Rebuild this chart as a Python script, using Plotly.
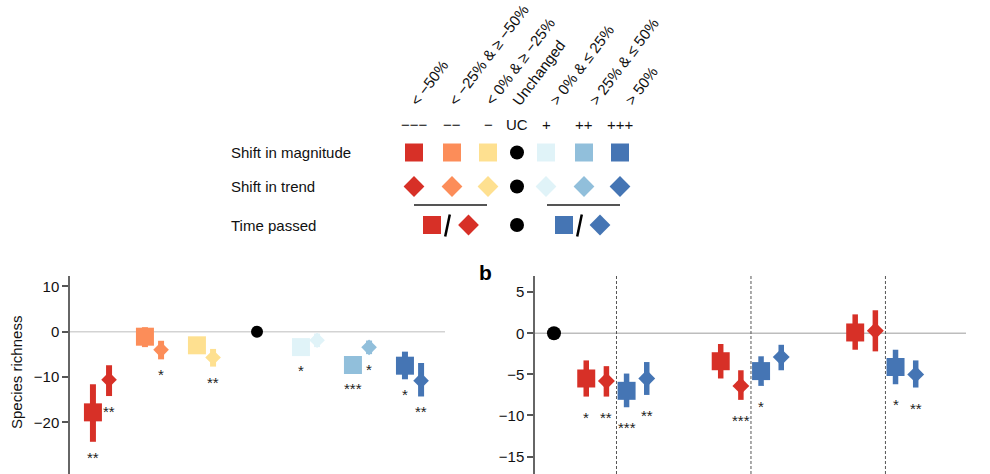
import plotly.graph_objects as go

# ---------------- data ----------------
# Panel a: shift categories
a_categories = ["−−−", "−−", "−", "UC", "+", "++", "+++"]
a_mag_val = [-17.8, -1.1, -3.0, None, -3.4, -7.35, -7.5]
a_mag_lo = [-24.3, -3.4, -4.8, None, -5.2, -9.15, -10.5]
a_mag_hi = [-11.6, 1.0, -1.2, None, -1.6, -5.55, -4.4]
a_trend_val = [-10.6, -4.0, -5.7, None, -1.9, -3.45, -10.8]
a_trend_lo = [-14.2, -6.1, -7.7, None, -3.4, -4.95, -14.3]
a_trend_hi = [-7.4, -2.0, -3.8, None, -0.4, -1.95, -6.9]
a_mag_sig = ["**", "", "", "", "*", "***", "*"]
a_trend_sig = ["**", "*", "**", "", "", "*", "**"]
uc_value = 0.0

# Panel b: three time-passed groups
b_groups = [1, 2, 3]
b_neg_mag_val = [-5.5, -3.4, 0.1]
b_neg_mag_lo = [-7.7, -5.5, -2.0]
b_neg_mag_hi = [-3.3, -1.3, 2.3]
b_neg_trend_val = [-5.8, -6.4, 0.3]
b_neg_trend_lo = [-7.7, -8.1, -2.2]
b_neg_trend_hi = [-4.0, -4.5, 2.8]
b_pos_mag_val = [-7.0, -4.6, -4.1]
b_pos_mag_lo = [-9.0, -6.4, -6.2]
b_pos_mag_hi = [-4.9, -2.8, -2.0]
b_pos_trend_val = [-5.5, -2.9, -5.0]
b_pos_trend_lo = [-7.5, -4.5, -6.6]
b_pos_trend_hi = [-3.5, -1.4, -3.3]
b_neg_mag_sig = ["*", "", ""]
b_neg_trend_sig = ["**", "***", ""]
b_pos_mag_sig = ["***", "*", "*"]
b_pos_trend_sig = ["**", "", "**"]

header_labels = ["< −50%", "< −25% & ≥ −50%", "< 0% & ≥ −25%", "Unchanged",
                 "> 0% & ≤ 25%", "> 25% & ≤ 50%", "> 50%"]
row_labels = ["Shift in magnitude", "Shift in trend", "Time passed"]

# ---------------- styles ----------------
colors = ["#d73027", "#fc8d59", "#fee090", "#000000", "#e0f3f8", "#91bfdb", "#4575b4"]
RED, BLUE = colors[0], colors[6]
FONT = "Liberation Sans, Arial, Helvetica, sans-serif"
W, H = 990, 474

fig = go.Figure()

# ---------- panel a ----------
A_OFF = 0.155
def add_point(xref, yref, x, val, lo, hi, color, symbol, size, thick):
    fig.add_trace(go.Scatter(
        x=[x], y=[val], mode="markers", xaxis=xref, yaxis=yref,
        marker=dict(symbol=symbol, size=size, color=color, line=dict(width=0)),
        error_y=dict(type="data", symmetric=False, array=[hi - val], arrayminus=[val - lo],
                     color=color, thickness=thick, width=0),
        showlegend=False, hoverinfo="skip"))

star_ann = []
for g, cat in enumerate(a_categories):
    if a_mag_val[g] is None:
        fig.add_trace(go.Scatter(x=[g], y=[uc_value], mode="markers", xaxis="x", yaxis="y",
                                 marker=dict(size=12, color="#000"), showlegend=False,
                                 hoverinfo="skip"))
        continue
    add_point("x", "y", g - A_OFF, a_mag_val[g], a_mag_lo[g], a_mag_hi[g], colors[g], "square", 18, 6)
    add_point("x", "y", g + A_OFF, a_trend_val[g], a_trend_lo[g], a_trend_hi[g], colors[g], "diamond", 12, 6)
    for xo, lo, s in [(g - A_OFF, a_mag_lo[g], a_mag_sig[g]), (g + A_OFF, a_trend_lo[g], a_trend_sig[g])]:
        if s:
            star_ann.append(dict(x=xo, y=lo, xref="x", yref="y", text=s, showarrow=False,
                                 yanchor="top", yshift=-5, font=dict(size=15, color="#222", family=FONT)))

# ---------- panel b ----------
B_OFF = [-0.225, -0.075, 0.075, 0.225]
fig.add_trace(go.Scatter(x=[0.535], y=[uc_value], mode="markers", xaxis="x2", yaxis="y2",
                         marker=dict(size=14, color="#000"), showlegend=False, hoverinfo="skip"))
series_b = [
    (b_neg_mag_val, b_neg_mag_lo, b_neg_mag_hi, b_neg_mag_sig, RED, "square", 18),
    (b_neg_trend_val, b_neg_trend_lo, b_neg_trend_hi, b_neg_trend_sig, RED, "diamond", 13),
    (b_pos_mag_val, b_pos_mag_lo, b_pos_mag_hi, b_pos_mag_sig, BLUE, "square", 18),
    (b_pos_trend_val, b_pos_trend_lo, b_pos_trend_hi, b_pos_trend_sig, BLUE, "diamond", 13),
]
for k, g in enumerate(b_groups):
    for j, (vals, los, his, sigs, col, sym, sz) in enumerate(series_b):
        x = g + B_OFF[j]
        add_point("x2", "y2", x, vals[k], los[k], his[k], col, sym, sz, 5.5)
        if sigs[k]:
            star_ann.append(dict(x=x, y=los[k], xref="x2", yref="y2", text=sigs[k], showarrow=False,
                                 yanchor="top", yshift=-10, font=dict(size=15, color="#222", family=FONT)))

# ---------- legend (pixel coordinate overlay axis) ----------
col_x = [414, 452, 488, 517, 546, 584, 620]
row_y = [152.5, 186.5, 225]
for i, c in enumerate(colors):
    if i == 3:
        fig.add_trace(go.Scatter(x=[col_x[i], col_x[i]], y=[row_y[0], row_y[1]], mode="markers",
                                 xaxis="x3", yaxis="y3", marker=dict(size=14, color="#000"),
                                 showlegend=False, hoverinfo="skip"))
        continue
    fig.add_trace(go.Scatter(x=[col_x[i]], y=[row_y[0]], mode="markers", xaxis="x3", yaxis="y3",
                             marker=dict(symbol="square", size=18, color=c, line=dict(width=0)),
                             showlegend=False, hoverinfo="skip"))
    fig.add_trace(go.Scatter(x=[col_x[i]], y=[row_y[1]], mode="markers", xaxis="x3", yaxis="y3",
                             marker=dict(symbol="diamond", size=16, color=c, line=dict(width=0)),
                             showlegend=False, hoverinfo="skip"))
# time passed row
tp = [(432, "square", RED, 18), (468.5, "diamond", RED, 16), (517, "circle", "#000", 14),
      (564, "square", BLUE, 18), (600, "diamond", BLUE, 16)]
for x, sym, c, sz in tp:
    fig.add_trace(go.Scatter(x=[x], y=[row_y[2]], mode="markers", xaxis="x3", yaxis="y3",
                             marker=dict(symbol=sym, size=sz, color=c, line=dict(width=0)),
                             showlegend=False, hoverinfo="skip"))

shapes = []
# legend underlines and slashes
for x0, x1 in [(414, 487), (547, 620)]:
    shapes.append(dict(type="line", xref="x3", yref="y3", x0=x0, x1=x1, y0=205, y1=205,
                       line=dict(color="#555", width=2)))
for xs in [447.5, 579.5]:
    shapes.append(dict(type="line", xref="x3", yref="y3", x0=xs - 2.3, x1=xs + 2.3, y0=236.5, y1=214.5,
                       line=dict(color="#000", width=2.5)))
# zero lines
shapes.append(dict(type="line", xref="x domain", yref="y", x0=0, x1=1, y0=0, y1=0,
                   line=dict(color="#d3d3d3", width=1.5), layer="below"))
shapes.append(dict(type="line", xref="x2 domain", yref="y2", x0=0, x1=1, y0=0, y1=0,
                   line=dict(color="#bdbdbd", width=1.5), layer="below"))
# dashed separators in panel b
for g in b_groups:
    shapes.append(dict(type="line", xref="x2", yref="y2 domain", x0=g, x1=g, y0=0, y1=1,
                       line=dict(color="#555", width=1, dash="3px,2px"), layer="below"))

ann = list(star_ann)
for i, t in enumerate(header_labels):
    hx = [413, 452, 488, 515, 552, 592, 628][i]
    ann.append(dict(x=hx - 9, y=111, xref="x3", yref="y3", text=t, showarrow=False,
                    textangle=-53, xanchor="left", yanchor="bottom",
                    font=dict(size=15, color="#111", family=FONT)))
for i, t in enumerate(a_categories):
    ann.append(dict(x=col_x[i], y=124, xref="x3", yref="y3", text=t, showarrow=False,
                    xanchor="center", yanchor="middle", font=dict(size=15, color="#111", family=FONT)))
for i, t in enumerate(row_labels):
    ann.append(dict(x=229, y=row_y[i], xref="x3", yref="y3", text=t, showarrow=False,
                    xanchor="left", yanchor="middle", font=dict(size=15, color="#111", family=FONT)))
ann.append(dict(x=16, y=373, xref="x3", yref="y3", text="Species richness", showarrow=False,
                textangle=-90, xanchor="center", yanchor="middle",
                font=dict(size=15, color="#111", family=FONT)))
ann.append(dict(x=485, y=272, xref="x3", yref="y3", text="<b>b</b>", showarrow=False,
                xanchor="center", yanchor="middle", font=dict(size=21, color="#000", family=FONT)))

yax_common = dict(showline=True, linecolor="#666", linewidth=1.5, ticks="outside", ticklen=6,
                  tickwidth=1.5, tickcolor="#555", showgrid=False, zeroline=False,
                  tickfont=dict(size=15, color="#111", family=FONT))
xax_hidden = dict(showline=False, showticklabels=False, ticks="", showgrid=False, zeroline=False)

top = 1 - 276 / H
fig.update_layout(
    width=W, height=H, margin=dict(l=0, r=0, t=0, b=0),
    paper_bgcolor="white", plot_bgcolor="rgba(0,0,0,0)", showlegend=False,
    font=dict(family=FONT, size=15, color="#111"),
    xaxis=dict(domain=[70 / W, 445 / W], range=[-0.596, 6.615], anchor="y", **xax_hidden),
    yaxis=dict(domain=[0, top], range=[-31.41, 12.3], anchor="x", tickvals=[-20, -10, 0, 10], **yax_common),
    xaxis2=dict(domain=[535 / W, 966 / W], range=[0.394, 3.599], anchor="y2", **xax_hidden),
    yaxis2=dict(domain=[0, top], range=[-17.12, 6.97], anchor="x2", tickvals=[-15, -10, -5, 0, 5], **yax_common),
    xaxis3=dict(domain=[0, 1], range=[0, W], anchor="y3", visible=False),
    yaxis3=dict(domain=[0, 1], range=[H, 0], anchor="x3", visible=False),
    shapes=shapes, annotations=ann,
)

fig.write_html("out.html", config={"displayModeBar": False},
               post_script="document.body.style.margin='0';")
